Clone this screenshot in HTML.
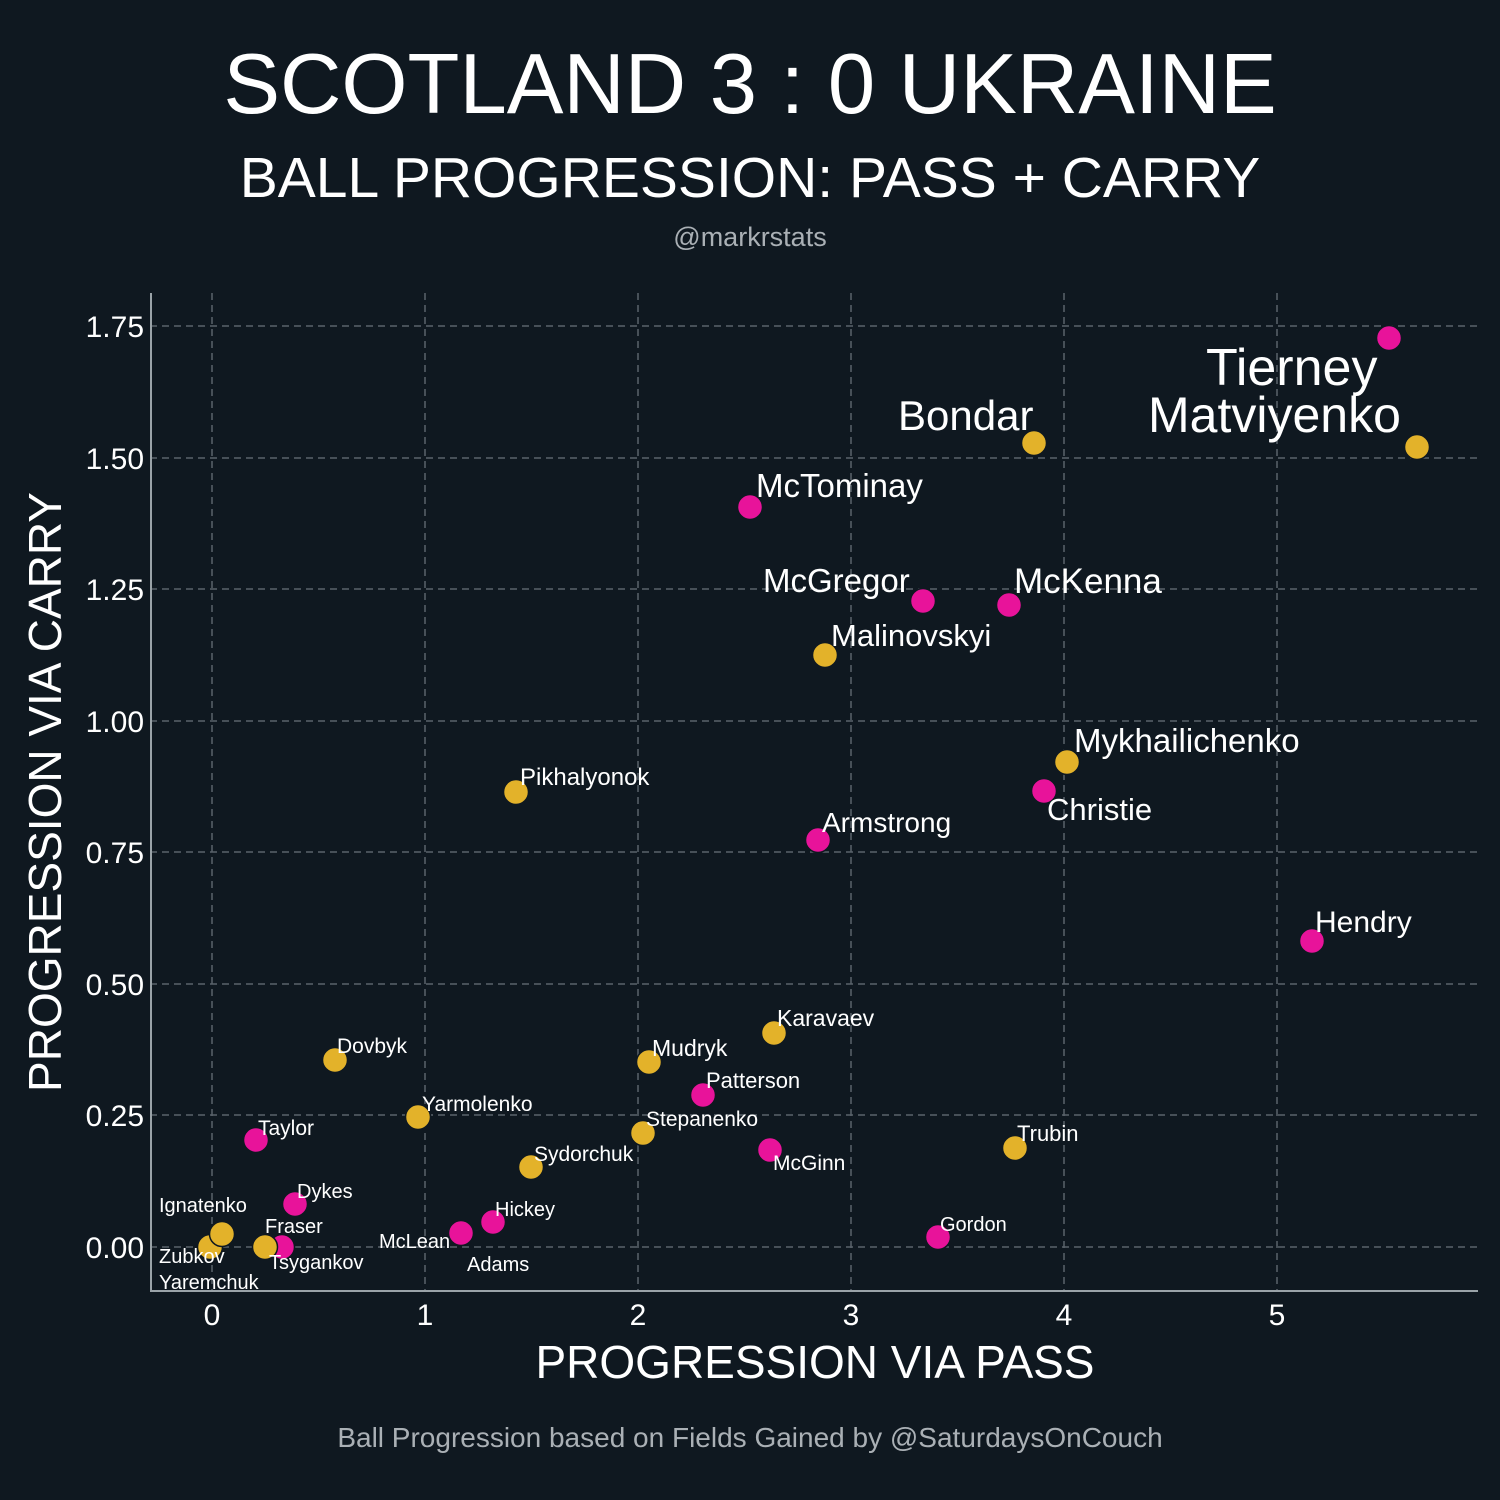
<!DOCTYPE html>
<html><head><meta charset="utf-8"><style>
html,body{margin:0;padding:0;background:#0f1820;}
svg{display:block;font-family:"Liberation Sans",sans-serif;}
</style></head><body>
<svg width="1500" height="1500" viewBox="0 0 1500 1500" xmlns="http://www.w3.org/2000/svg">
<rect width="1500" height="1500" fill="#0f1820"/>
<text x="750" y="113" text-anchor="middle" font-size="85" fill="#fff">SCOTLAND 3 : 0 UKRAINE</text>
<text x="750" y="197" text-anchor="middle" font-size="57" fill="#fff">BALL PROGRESSION: PASS + CARRY</text>
<text x="750" y="246" text-anchor="middle" font-size="27" fill="#aab0b5">@markrstats</text>
<g stroke="#5a636b" stroke-width="1.5" stroke-dasharray="7,5">
<line x1="212" y1="293" x2="212" y2="1291"/><line x1="425" y1="293" x2="425" y2="1291"/><line x1="638" y1="293" x2="638" y2="1291"/><line x1="851" y1="293" x2="851" y2="1291"/><line x1="1064" y1="293" x2="1064" y2="1291"/><line x1="1277" y1="293" x2="1277" y2="1291"/>
<line x1="150" y1="326" x2="1478" y2="326"/><line x1="150" y1="458" x2="1478" y2="458"/><line x1="150" y1="589" x2="1478" y2="589"/><line x1="150" y1="721" x2="1478" y2="721"/><line x1="150" y1="852" x2="1478" y2="852"/><line x1="150" y1="984" x2="1478" y2="984"/><line x1="150" y1="1115" x2="1478" y2="1115"/><line x1="150" y1="1247" x2="1478" y2="1247"/>
</g>
<line x1="151" y1="293" x2="151" y2="1292" stroke="#9aa3a8" stroke-width="2"/>
<line x1="150" y1="1291" x2="1478" y2="1291" stroke="#9aa3a8" stroke-width="2"/>
<g font-size="30" fill="#fff" text-anchor="end">
<text x="144" y="337">1.75</text><text x="144" y="469">1.50</text><text x="144" y="600">1.25</text><text x="144" y="732">1.00</text><text x="144" y="863">0.75</text><text x="144" y="995">0.50</text><text x="144" y="1126">0.25</text><text x="144" y="1258">0.00</text>
</g>
<g font-size="30" fill="#fff" text-anchor="middle">
<text x="212" y="1325">0</text><text x="425" y="1325">1</text><text x="638" y="1325">2</text><text x="851" y="1325">3</text><text x="1064" y="1325">4</text><text x="1277" y="1325">5</text>
</g>
<text x="815" y="1378" text-anchor="middle" font-size="46" fill="#fff">PROGRESSION VIA PASS</text>
<text transform="translate(61,792) rotate(-90)" text-anchor="middle" font-size="46" fill="#fff">PROGRESSION VIA CARRY</text>
<text x="750" y="1447" text-anchor="middle" font-size="28" fill="#aab0b5">Ball Progression based on Fields Gained by @SaturdaysOnCouch</text>
<g stroke="#0f1820" stroke-width="1.5">
<circle cx="1389" cy="338" r="12.5" fill="#e8139a"/>
<circle cx="1417" cy="447" r="12.5" fill="#e3b22a"/>
<circle cx="1034" cy="443" r="12.5" fill="#e3b22a"/>
<circle cx="750" cy="507" r="12.5" fill="#e8139a"/>
<circle cx="923" cy="601" r="12.5" fill="#e8139a"/>
<circle cx="1009" cy="605" r="12.5" fill="#e8139a"/>
<circle cx="825" cy="655" r="12.5" fill="#e3b22a"/>
<circle cx="1067" cy="762" r="12.5" fill="#e3b22a"/>
<circle cx="1044" cy="791" r="12.5" fill="#e8139a"/>
<circle cx="818" cy="840" r="12.5" fill="#e8139a"/>
<circle cx="516" cy="792" r="12.5" fill="#e3b22a"/>
<circle cx="1312" cy="941" r="12.5" fill="#e8139a"/>
<circle cx="774" cy="1033" r="12.5" fill="#e3b22a"/>
<circle cx="335" cy="1060" r="12.5" fill="#e3b22a"/>
<circle cx="649" cy="1062" r="12.5" fill="#e3b22a"/>
<circle cx="703" cy="1095" r="12.5" fill="#e8139a"/>
<circle cx="418" cy="1117" r="12.5" fill="#e3b22a"/>
<circle cx="643" cy="1133" r="12.5" fill="#e3b22a"/>
<circle cx="256" cy="1140" r="12.5" fill="#e8139a"/>
<circle cx="770" cy="1150" r="12.5" fill="#e8139a"/>
<circle cx="1015" cy="1148" r="12.5" fill="#e3b22a"/>
<circle cx="531" cy="1167" r="12.5" fill="#e3b22a"/>
<circle cx="295" cy="1204" r="12.5" fill="#e8139a"/>
<circle cx="493" cy="1222" r="12.5" fill="#e8139a"/>
<circle cx="461" cy="1233" r="12.5" fill="#e8139a"/>
<circle cx="938" cy="1237" r="12.5" fill="#e8139a"/>
<circle cx="210" cy="1247" r="12.5" fill="#e3b22a"/>
<circle cx="222" cy="1234" r="12.5" fill="#e3b22a"/>
<circle cx="282" cy="1247" r="12.5" fill="#e8139a"/>
<circle cx="265" cy="1247" r="12.5" fill="#e3b22a"/>
</g>
<g fill="#fff">
<text x="1206" y="385" font-size="52">Tierney</text>
<text x="1148" y="432" font-size="50">Matviyenko</text>
<text x="898" y="430" font-size="42">Bondar</text>
<text x="756" y="497" font-size="33">McTominay</text>
<text x="763" y="592" font-size="33">McGregor</text>
<text x="1014" y="593" font-size="35">McKenna</text>
<text x="831" y="646" font-size="31">Malinovskyi</text>
<text x="1074" y="752" font-size="33">Mykhailichenko</text>
<text x="1047" y="820" font-size="31">Christie</text>
<text x="822" y="832" font-size="28">Armstrong</text>
<text x="520" y="785" font-size="24">Pikhalyonok</text>
<text x="1315" y="932" font-size="30">Hendry</text>
<text x="777" y="1026" font-size="23">Karavaev</text>
<text x="337" y="1053" font-size="21">Dovbyk</text>
<text x="652" y="1056" font-size="23">Mudryk</text>
<text x="706" y="1088" font-size="22">Patterson</text>
<text x="422" y="1111" font-size="21">Yarmolenko</text>
<text x="646" y="1126" font-size="21">Stepanenko</text>
<text x="258" y="1135" font-size="21">Taylor</text>
<text x="773" y="1170" font-size="21">McGinn</text>
<text x="1017" y="1141" font-size="22">Trubin</text>
<text x="534" y="1161" font-size="21">Sydorchuk</text>
<text x="297" y="1198" font-size="20">Dykes</text>
<text x="495" y="1216" font-size="20">Hickey</text>
<text x="379" y="1248" font-size="20">McLean</text>
<text x="467" y="1271" font-size="20">Adams</text>
<text x="940" y="1231" font-size="20">Gordon</text>
<text x="159" y="1212" font-size="20">Ignatenko</text>
<text x="265" y="1233" font-size="20">Fraser</text>
<text x="159" y="1263" font-size="20">Zubkov</text>
<text x="269" y="1269" font-size="20">Tsygankov</text>
<text x="159" y="1289" font-size="20">Yaremchuk</text>
</g>
</svg>
</body></html>
